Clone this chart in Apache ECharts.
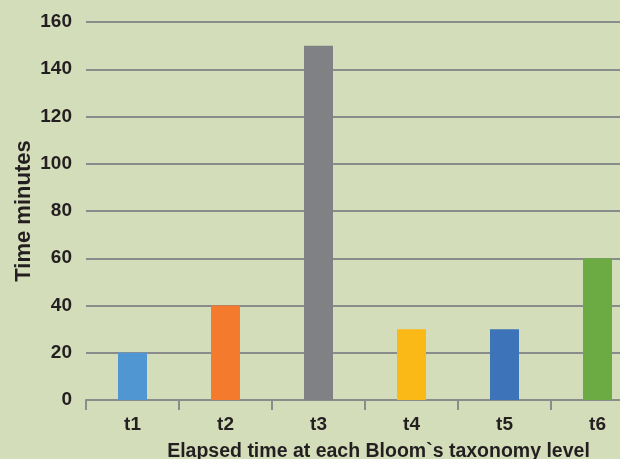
<!DOCTYPE html>
<html><head><meta charset="utf-8">
<script src="https://cdn.jsdelivr.net/npm/echarts@6/dist/echarts.min.js"></script>
<style>html,body{margin:0;padding:0;background:#d4ddb9}#c{width:620px;height:459px}</style>
</head><body><div id="c"></div>
<script>
var categories = ['t1','t2','t3','t4','t5','t6'];
var values = [20, 40, 150, 30, 30, 60];
var barColors = ['#5096d3','#f47b2d','#808184','#fbb917','#3d73b9','#6cab43'];
var chart = echarts.init(document.getElementById('c'));
var font = 'Liberation Sans, Arial, Helvetica, sans-serif';
chart.setOption({
  backgroundColor: '#d4ddb9',
  animation: false,
  grid: {left: 86, top: 22, width: 558, height: 378, outerBoundsMode: 'none', containLabel: false},
  xAxis: {
    type: 'category', data: categories,
    name: 'Elapsed time at each Bloom`s taxonomy level',
    nameLocation: 'middle', nameGap: 42, nameMoveOverlap: false,
    nameTextStyle: {fontFamily: font, fontWeight: 'bold', fontSize: 19.5, color: '#231f20', padding: [0, 0, 0, 27]},
    axisLine: {lineStyle: {color: '#8a8c8c', width: 2}},
    axisTick: {show: true, length: 10, lineStyle: {color: '#8a8c8c', width: 2}},
    axisLabel: {fontFamily: font, fontWeight: 'bold', fontSize: 19, color: '#231f20', margin: 15}
  },
  yAxis: {
    type: 'value', min: 0, max: 160, interval: 20,
    name: 'Time minutes', nameLocation: 'middle', nameGap: 51, nameMoveOverlap: false,
    nameTextStyle: {fontFamily: font, fontWeight: 'bold', fontSize: 22, color: '#231f20'},
    axisLine: {show: false}, axisTick: {show: false},
    axisLabel: {fontFamily: font, fontWeight: 'bold', fontSize: 19, color: '#231f20', margin: 14},
    splitLine: {lineStyle: {color: '#8a8c8c', width: 2}}
  },
  series: [{
    type: 'bar', barWidth: 29,
    data: values.map(function(v, i){ return {value: v, itemStyle: {color: barColors[i]}}; })
  }]
});
</script></body></html>
